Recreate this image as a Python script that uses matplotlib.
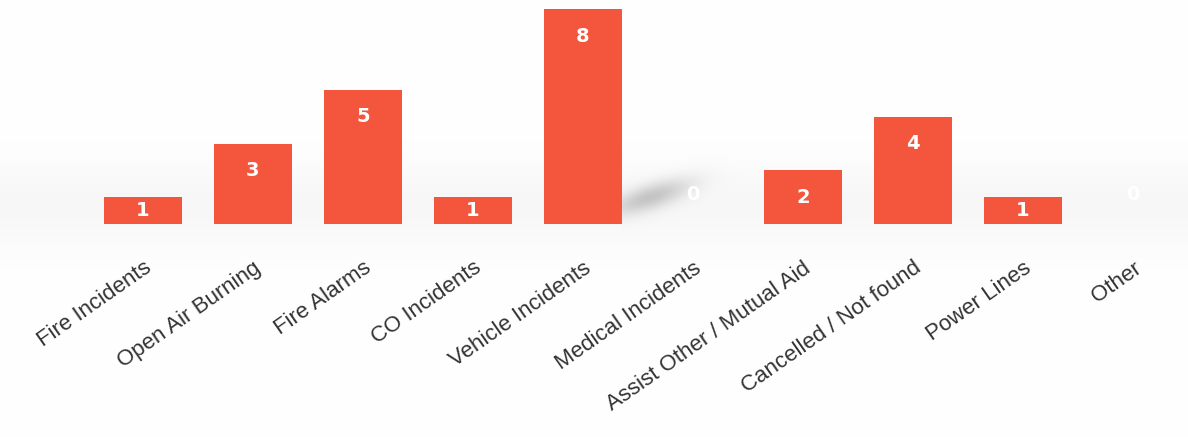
import matplotlib.pyplot as plt
import numpy as np

categories = ["Fire Incidents", "Open Air Burning", "Fire Alarms", "CO Incidents",
              "Vehicle Incidents", "Medical Incidents", "Assist Other / Mutual Aid",
              "Cancelled / Not found", "Power Lines", "Other"]
counts = [1, 3, 5, 1, 8, 0, 2, 4, 1, 0]

W, H = 1188, 437
fig = plt.figure(figsize=(W / 100, H / 100), dpi=100)

# soft grey floor band + shadow behind the tall bar (decoration only)
bg = fig.add_axes([0, 0, 1, 1], zorder=0)
yy, xx = np.mgrid[0:H, 0:W]
band = 0.03 * np.exp(-((yy - 205) / 45.0) ** 2)
blob = 0.2 * np.exp(-((xx - 650) / 40.0) ** 2 - ((yy - 205 + 0.3 * (xx - 622)) / 13.0) ** 2)
blob[xx < 622] = 0
shade = np.clip(1 - band - blob, 0, 1)
bg.imshow(np.dstack([shade] * 3), extent=(0, W, H, 0), aspect='auto')
bg.axis('off')

ax = fig.add_axes([0.074, 0.487, 0.926, 0.495], zorder=1)
ax.patch.set_alpha(0)

x = np.arange(len(categories))
ax.bar(x, counts, width=0.71, color='#F3553D', zorder=3)

# numbers inside bars, near the top
for xi, v in zip(x, counts):
    y = v - min(1.0, v / 2) if v > 0 else 1.1
    ax.text(xi, y, str(v), ha='center', va='center',
            color='white', fontsize=14, fontweight='bold', zorder=4)

ax.set_xlim(-0.5, len(categories) - 0.5)
ax.set_ylim(0, 8.05)
ax.set_xticks(x)
ax.set_xticklabels(categories, rotation=35, ha='right', rotation_mode='anchor',
                   fontsize=16, color='#333333', family='Liberation Sans')
ax.tick_params(axis='x', length=0, pad=24)
ax.set_yticks([])
for s in ax.spines.values():
    s.set_visible(False)

fig.savefig('out.png', dpi=100, facecolor='white')
